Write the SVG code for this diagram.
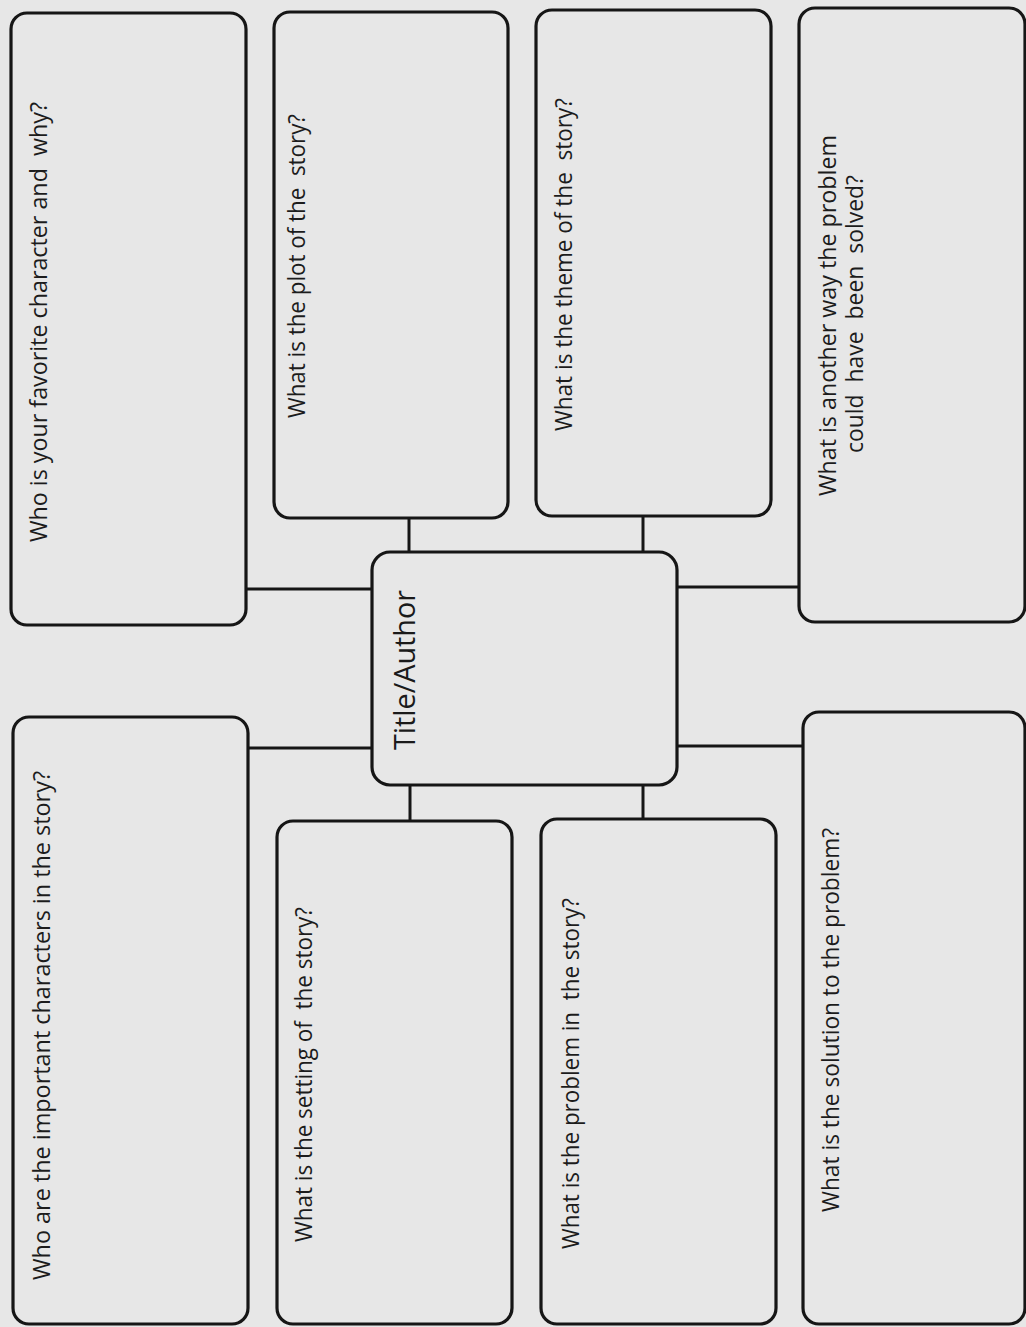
<svg xmlns="http://www.w3.org/2000/svg" width="1026" height="1327" viewBox="0 0 1026 1327">
<style>
.box{fill:#e7e7e7;stroke:#161616;stroke-width:3.2}
.conn{fill:none;stroke:#161616;stroke-width:3}
.lbl{font-family:"Open Sans","Liberation Sans",sans-serif;font-size:23px;fill:#1c1c1c;white-space:pre}
.ttl{font-family:"Open Sans","Liberation Sans",sans-serif;font-size:29px;fill:#1a1a1a}
</style>
<rect x="0" y="0" width="1026" height="1327" fill="#e7e7e7"/>
<g id="connectors">
<path class="conn" d="M246 589H372"/>
<path class="conn" d="M409 518V552"/>
<path class="conn" d="M643 516V552"/>
<path class="conn" d="M677 587H799"/>
<path class="conn" d="M248 748H372"/>
<path class="conn" d="M410 785V821"/>
<path class="conn" d="M643 785V819"/>
<path class="conn" d="M677 746H803"/>
</g>
<g id="favorite">
<rect class="box" x="11" y="13" width="235" height="612" rx="16"/>
<text class="lbl" transform="rotate(-90 47 542)" x="47" y="542" textLength="440" lengthAdjust="spacingAndGlyphs">Who is your favorite character and  why?</text>
</g>
<g id="plot">
<rect class="box" x="274" y="12" width="234" height="506" rx="16"/>
<text class="lbl" transform="rotate(-90 305 418)" x="305" y="418" textLength="304" lengthAdjust="spacingAndGlyphs">What is the plot of the  story?</text>
</g>
<g id="theme">
<rect class="box" x="536" y="10" width="235" height="506" rx="16"/>
<text class="lbl" transform="rotate(-90 572 431)" x="572" y="431" textLength="333" lengthAdjust="spacingAndGlyphs">What is the theme of the  story?</text>
</g>
<g id="another-way">
<rect class="box" x="799" y="8" width="226" height="614" rx="16"/>
<text class="lbl" transform="rotate(-90 836 496)" x="836" y="496" textLength="361" lengthAdjust="spacingAndGlyphs">What is another way the problem</text>
<text class="lbl" transform="rotate(-90 863 453)" x="863" y="453" textLength="278" lengthAdjust="spacingAndGlyphs">could  have  been  solved?</text>
</g>
<g id="title">
<rect class="box" x="372" y="552" width="305" height="233" rx="18"/>
<text class="ttl" transform="rotate(-90 415 750)" x="415" y="750" textLength="160" lengthAdjust="spacingAndGlyphs">Title/Author</text>
</g>
<g id="characters">
<rect class="box" x="13" y="717" width="235" height="607" rx="16"/>
<text class="lbl" transform="rotate(-90 50 1280)" x="50" y="1280" textLength="509" lengthAdjust="spacingAndGlyphs">Who are the important characters in the story?</text>
</g>
<g id="setting">
<rect class="box" x="277" y="821" width="235" height="503" rx="16"/>
<text class="lbl" transform="rotate(-90 312 1242)" x="312" y="1242" textLength="335" lengthAdjust="spacingAndGlyphs">What is the setting of  the story?</text>
</g>
<g id="problem">
<rect class="box" x="541" y="819" width="235" height="505" rx="16"/>
<text class="lbl" transform="rotate(-90 579 1249)" x="579" y="1249" textLength="351" lengthAdjust="spacingAndGlyphs">What is the problem in  the story?</text>
</g>
<g id="solution">
<rect class="box" x="803" y="712" width="222" height="612" rx="16"/>
<text class="lbl" transform="rotate(-90 839 1212)" x="839" y="1212" textLength="384" lengthAdjust="spacingAndGlyphs">What is the solution to the problem?</text>
</g>
</svg>
